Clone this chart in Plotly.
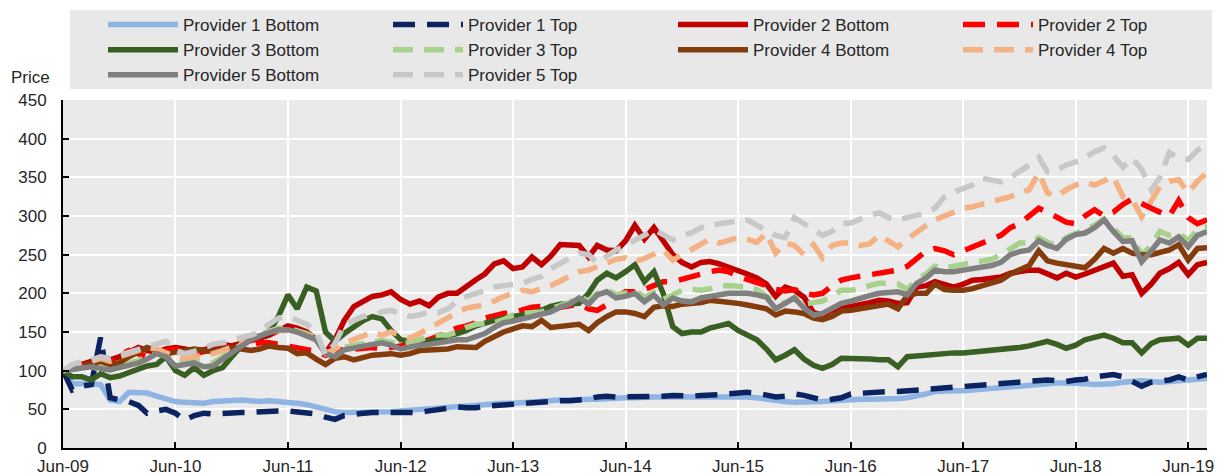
import pandas as pd
import plotly.graph_objects as go

# monthly observations, Jun-2009 .. Aug-2019
months = pd.date_range("2009-06-01", "2019-08-01", freq="MS")

p1_bottom = [100, 83, 83, 82, 82, 62, 60, 72, 72, 71, 67, 63,
             60, 59, 58, 58, 60, 61, 61, 62, 61, 60, 61, 60,
             60, 58, 56, 53, 50, 47, 46, 46, 46, 47, 47, 47,
             48, 49, 50, 51, 52, 53, 54, 55, 56, 57, 57, 58,
             58, 59, 60, 60, 61, 62, 62, 63, 63, 63, 64, 65,
             65, 65, 66, 66, 66, 66, 67, 67, 67, 67, 67, 67,
             67, 66, 65, 63, 62, 60, 59, 59, 60, 60, 61, 62,
             63, 63, 63, 63, 64, 64, 65, 67, 70, 73, 74, 74,
             74, 75, 76, 77, 78, 79, 80, 81, 83, 84, 84, 84,
             84, 83, 82, 82, 83, 85, 86, 87, 86, 85, 86, 87,
             88, 89, 90]
p1_top = [100, 75, 80, 82, 143, 65, 62, 60, 55, 45, 48, 50,
          45, 36, 42, 45, 44, 45, 45, 46, 46, 47, 47, 48,
          48, 47, 46, 44, 40, 37, 42, 44, 45, 46, 46, 46,
          46, 45, 46, 48, 50, 52, 53, 52, 52, 54, 55, 56,
          56, 57, 58, 59, 60, 61, 61, 62, 63, 66, 67, 66,
          66, 66, 67, 67, 67, 68, 67, 67, 68, 68, 69, 70,
          71, 72, 71, 68, 66, 67, 70, 68, 64, 62, 63, 65,
          70, 71, 72, 72, 73, 73, 74, 75, 76, 77, 78, 79,
          80, 81, 81, 82, 84, 85, 86, 87, 88, 88, 87, 86,
          88, 89, 92, 94, 95, 92, 86, 80, 85, 86, 88, 92,
          88, 92, 95]
p2_bottom = [100, 104, 108, 112, 118, 114, 118, 125, 130, 126, 124, 128,
             130, 128, 125, 127, 130, 134, 132, 135, 138, 142, 146, 152,
             158, 155, 150, 140, 123, 140, 165, 183, 190, 196, 198, 202,
             192, 186, 190, 184, 195, 200, 200, 210, 218, 225, 238, 242,
             232, 234, 247, 237, 248, 263, 263, 262, 247, 262, 256, 255,
             268, 288, 270, 285, 268, 250, 240, 234, 240, 241, 238, 234,
             230, 225, 220, 212, 196, 208, 204, 195, 175, 172, 178, 182,
             183, 185, 188, 191, 190, 187, 188, 208, 210, 215, 212, 208,
             212, 217, 218, 220, 221, 226, 228, 230, 230, 225, 220, 226,
             221, 225, 230, 236, 239, 222, 224, 200, 212, 226, 232, 240,
             224, 237, 240]
p2_top = [100, 103, 108, 112, 116, 110, 120, 126, 122, 118, 122, 126,
          128, 124, 122, 125, 128, 130, 128, 130, 133, 136, 136, 134,
          132, 130, 128, 125, 120, 125, 128, 128, 129, 130, 128, 130,
          132, 134, 136, 140, 145, 150, 155, 158, 162, 168, 172, 174,
          175, 178, 182, 183, 180, 182, 184, 186, 180, 178, 185, 195,
          202, 202, 205, 210, 215, 215, 218, 222, 226, 228, 230, 228,
          222, 218, 215, 210, 205, 203, 205, 200, 198, 200, 210, 217,
          220, 222, 224, 226, 228, 230, 235, 245, 255, 258, 255, 250,
          255, 260, 265, 270, 275, 285, 290, 300, 310, 305, 298, 292,
          290, 300, 308, 300, 305, 315, 322, 315, 310, 305, 300, 320,
          298, 290, 295]
p3_bottom = [100, 92, 92, 88, 96, 91, 93, 98, 103, 106, 108, 118,
             100, 94, 104, 94, 100, 104, 118, 132, 142, 144, 150, 170,
             198, 180, 208, 203, 150, 138, 148, 157, 165, 170, 167, 152,
             140, 138, 137, 138, 142, 145, 148, 152, 158, 162, 165, 168,
             170, 172, 174, 178, 183, 186, 187, 187, 200, 217, 226, 220,
             228, 237, 215, 228, 200, 157, 148, 150, 150, 155, 158, 161,
             152, 146, 140, 128, 114, 120, 127, 115, 107, 103, 108, 116,
             116, 115, 115, 114, 114, 105, 118, 119, 120, 122, 123, 123,
             123, 124, 125, 126, 128, 129, 130, 132, 135, 138, 134, 129,
             133, 140, 143, 146, 142, 136, 136, 123, 135, 140, 141, 142,
             133, 142, 142]
p3_top = [100, 104, 106, 108, 106, 104, 107, 110, 113, 118, 124, 120,
          110, 112, 114, 110, 110, 118, 126, 135, 142, 147, 152, 155,
          155, 152, 148, 142, 124, 122, 130, 133, 136, 137, 139, 137,
          134, 136, 140, 144, 146, 146, 150, 156, 160, 161, 162, 166,
          172, 174, 175, 176, 180, 184, 188, 196, 190, 200, 205, 198,
          200, 204, 195, 201, 192, 198, 204, 205, 204, 206, 209, 210,
          209, 208, 205, 196, 190, 187, 195, 186, 188, 190, 196, 204,
          204, 206, 210, 213, 213, 212, 205, 218, 225, 235, 233, 235,
          238, 240, 241, 244, 250, 258, 265, 265, 272, 266, 262, 272,
          278, 282, 288, 296, 284, 272, 272, 250, 262, 280, 275, 278,
          268, 282, 287]
p4_bottom = [100, 103, 106, 108, 112, 108, 110, 118, 124, 130, 126, 122,
             124, 126, 128, 126, 125, 128, 130, 128, 126, 128, 132, 130,
             129, 122, 123, 115, 108, 116, 118, 114, 117, 120, 121, 122,
             120, 122, 126, 127, 127, 128, 131, 130, 130, 138, 144, 150,
             154, 158, 157, 165, 156, 157, 158, 160, 152, 162, 170, 176,
             176, 174, 170, 182, 184, 183, 186, 187, 188, 191, 190, 189,
             187, 185, 182, 180, 172, 177, 176, 174, 168, 166, 170, 177,
             178, 180, 182, 183, 186, 180, 197, 200, 200, 212, 205, 204,
             204, 206, 210, 214, 217, 225, 230, 236, 255, 242, 239, 237,
             236, 233, 244, 258, 252, 258, 252, 250, 250, 252, 256, 263,
             243, 258, 259]
p4_top = [100, 105, 110, 112, 116, 112, 118, 122, 126, 130, 128, 124,
          118, 116, 118, 120, 122, 126, 130, 136, 142, 148, 150, 152,
          152, 150, 146, 140, 122, 128, 136, 140, 145, 150, 146, 150,
          145, 142, 148, 155, 163, 168, 175, 181, 183, 185, 190, 196,
          200, 204, 202, 206, 210, 216, 222, 228, 230, 234, 239, 244,
          246, 241, 245, 250, 256, 243, 250, 258, 265, 270, 265, 268,
          272, 270, 266, 278, 252, 265, 262, 250, 263, 246, 262, 265,
          265, 262, 264, 275, 268, 260, 270, 280, 288, 295, 300, 305,
          310, 312, 315, 318, 321, 325, 330, 334, 356, 330, 325, 334,
          340, 344, 340, 345, 351, 325, 321, 299, 320, 338, 345, 347,
          330, 345, 356]
p5_bottom = [100, 102, 104, 105, 103, 101, 104, 107, 110, 115, 122, 118,
             106, 108, 110, 105, 106, 115, 123, 132, 140, 145, 150, 153,
             153, 150, 145, 140, 122, 118, 127, 130, 133, 134, 136, 133,
             128, 131, 133, 134, 136, 139, 140, 140, 144, 148, 156, 162,
             164, 167, 170, 173, 176, 182, 186, 194, 186, 198, 202, 194,
             196, 200, 189, 198, 185, 194, 190, 189, 194, 196, 198, 200,
             200, 200, 198, 195, 180, 188, 194, 181, 172, 174, 180, 187,
             190, 194, 197, 200, 201, 202, 198, 213, 220, 230, 228, 228,
             230, 232, 234, 236, 240, 250, 254, 256, 268, 262, 258, 270,
             276, 278, 285, 295, 280, 267, 268, 241, 255, 269, 265, 273,
             260, 275, 280]
p5_top = [100, 108, 112, 114, 118, 116, 120, 124, 128, 132, 136, 138,
          126, 122, 125, 130, 134, 136, 140, 143, 146, 150, 160, 168,
          170, 166, 160, 150, 120, 135, 160, 165, 170, 172, 176, 178,
          174, 170, 172, 176, 175, 180, 190, 196, 200, 204, 208, 210,
          212, 213, 218, 222, 232, 239, 245, 252, 250, 239, 248, 256,
          262, 268, 275, 282, 276, 269, 275, 278, 285, 286, 290, 292,
          294, 295, 288, 282, 275, 272, 298, 290, 282, 275, 280, 290,
          291, 296, 301, 304, 298, 295, 298, 300, 304, 310, 325, 331,
          335, 340, 349, 346, 344, 350, 357, 366, 376, 357, 360, 366,
          370, 375, 383, 388, 378, 363, 375, 360, 334, 350, 382, 375,
          373, 385, 394]

names = ["Provider 1 Bottom", "Provider 1 Top", "Provider 2 Bottom", "Provider 2 Top",
         "Provider 3 Bottom", "Provider 3 Top", "Provider 4 Bottom", "Provider 4 Top",
         "Provider 5 Bottom", "Provider 5 Top"]
series = [p1_bottom, p1_top, p2_bottom, p2_top, p3_bottom,
          p3_top, p4_bottom, p4_top, p5_bottom, p5_top]
colors = ["#8EB4E3", "#0B2461", "#C00000", "#FF0000", "#3A5F22",
          "#A9D18E", "#843C0C", "#F4B183", "#808080", "#C8C8C8"]
dashes = ["solid", "22px,12px", "solid", "22px,12px", "solid",
          "20px,11px", "solid", "20px,11px", "solid", "20px,11px"]

TXT = "#262626"
FONT = "Liberation Sans, Arial, sans-serif"

fig = go.Figure()
for name, vals, col, dash in zip(names, series, colors, dashes):
    fig.add_trace(go.Scatter(x=months, y=vals, name=name, mode="lines",
                             line=dict(color=col, width=5.5, dash=dash)))

# plot area: x 63..1207, y 100..448 px
def px_x(p):
    return (p - 63) / 1144

def px_y(p):
    return (448 - p) / 348

fig.add_shape(type="rect", xref="paper", yref="paper", layer="below",
              x0=px_x(70), x1=px_x(1212), y0=px_y(89), y1=px_y(10),
              fillcolor="#E8E8E8", line=dict(width=0))
fig.add_annotation(text="Price", xref="paper", yref="paper", x=px_x(9), y=px_y(77),
                   xanchor="left", yanchor="middle", showarrow=False,
                   font=dict(size=17, color=TXT, family=FONT))

ticks = pd.date_range("2009-06-01", "2019-06-01", freq="12MS")
fig.update_xaxes(range=["2009-06-01", "2019-08-01"], tickvals=ticks, tickformat="%b-%y",
                 ticks="inside", ticklen=6, tickwidth=2, tickcolor="black",
                 showline=True, linecolor="black", linewidth=2,
                 showgrid=True, gridcolor="white", gridwidth=2, zeroline=False,
                 ticklabelstandoff=2,
                 tickfont=dict(size=17, color=TXT, family=FONT))
fig.update_yaxes(range=[0, 450], dtick=50, ticks="inside", ticklen=6, tickwidth=2,
                 tickcolor="black", showline=True, linecolor="black", linewidth=2,
                 showgrid=True, gridcolor="white", gridwidth=2, zeroline=False,
                 ticklabelstandoff=11,
                 tickfont=dict(size=17, color=TXT, family=FONT))

fig.update_layout(
    width=1222, height=475,
    margin=dict(l=63, r=15, t=100, b=27, autoexpand=False),
    paper_bgcolor="white", plot_bgcolor="#EAEAEA",
    legend=dict(orientation="h", x=px_x(103), xanchor="left", y=px_y(7), yanchor="top",
                bgcolor="rgba(0,0,0,0)", itemwidth=70, entrywidth=200,
                entrywidthmode="pixels", traceorder="normal",
                font=dict(size=17, color=TXT, family=FONT)),
)

fig.write_html("out.html", config={"displayModeBar": False},
               post_script="document.body.style.margin = '0px';")
